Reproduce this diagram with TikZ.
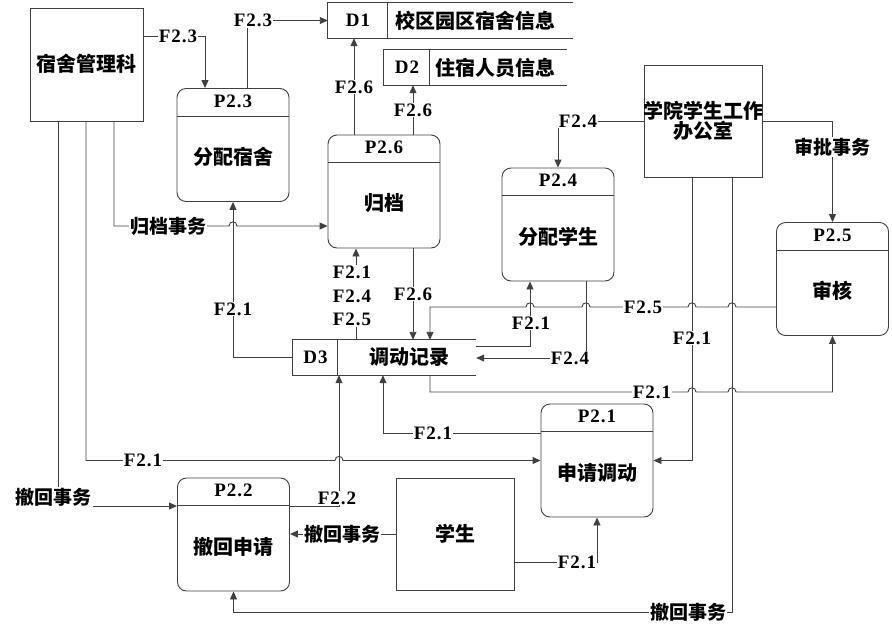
\documentclass[tikz,border=0pt]{standalone}
\usepackage{fontspec}
\usetikzlibrary{arrows.meta,calc}
\newfontfamily\cjk{Noto Sans CJK SC}
\newfontfamily\lat{Liberation Serif}[LetterSpace=5]
\tikzset{
  ln/.style={line width=0.9pt,draw=black!75},
  flow/.style={ln,-{Triangle[length=8pt,width=7pt]}},
  ext/.style={ln,draw,rectangle,inner sep=0pt},
  proc/.style={ln,draw,rounded corners=9pt,minimum width=112pt,minimum height=113pt,inner sep=0pt},
  store/.style={rectangle,inner sep=0pt,minimum height=35pt},
  cn/.style={font=\cjk\bfseries\fontsize{20}{20}\selectfont,inner sep=0pt},
  pid/.style={font=\lat\bfseries\fontsize{19}{21}\selectfont,inner sep=0pt},
  lab/.style={fill=white,inner sep=1pt,font=\lat\bfseries\fontsize{19}{23.5}\selectfont},
  clab/.style={fill=white,inner sep=1pt,font=\cjk\bfseries\fontsize{19}{21}\selectfont},
}
\newcommand\procbox[5]{%
  \node[proc] (#1) at (#2,#3) {};
  \draw[ln] ($(#1.north west)+(0,28)$) -- ($(#1.north east)+(0,28)$);
  \node[pid] (#1id) at ($(#1.north)+(0,13)$) {#4};
  \node[cn] (#1tx) at ($(#1.center)+(0,12)$) {#5};
}
\newcommand\storebox[6]{% name, cx, cy, width, id, text-x
  \node[store,minimum width=#4pt] (#1) at (#2,#3) {};
  \draw[ln] (#1.north east) -- (#1.north west) -- (#1.south west) -- (#1.south east);
  \draw[ln] ($(#1.north west)+(#6,0)$) -- ($(#1.south west)+(#6,0)$);
}
\begin{document}
\begin{tikzpicture}[x=1pt,y=-1pt]
\useasboundingbox (0,0) rectangle (892,633);

% external entities
\node[ext,minimum width=113pt,minimum height=113pt] (S) at (86.5,64.5) {};
\node[cn] (Stx) at (86.5,64) {宿舍管理科};
\node[ext,minimum width=118pt,minimum height=112pt] (O) at (703,121) {};
\node[cn,align=center] (Otx) at (703,120.5) {学院学生工作\\办公室};
\node[ext,minimum width=118pt,minimum height=112pt] (St) at (455,534) {};
\node[cn] (Sttx) at (455,534) {学生};

% processes
\procbox{P23}{233}{145}{P2.3}{分配宿舍}
\procbox{P26}{384}{191.5}{P2.6}{归档}
\procbox{P24}{558}{224.5}{P2.4}{分配学生}
\procbox{P25}{832.5}{279}{P2.5}{审核}
\procbox{P21}{597}{460.5}{P2.1}{申请调动}
\procbox{P22}{233.5}{534.5}{P2.2}{撤回申请}

% data stores
\storebox{D1}{450.5}{20.5}{245}{D1}{60}
\node[pid] (D1id) at (358,20.5) {D1};
\node[cn] (D1tx) at (475,20.5) {校区园区宿舍信息};
\storebox{D2}{475.5}{67.5}{183}{D2}{46}
\node[pid] (D2id) at (407,67.5) {D2};
\node[cn] (D2tx) at (495,67.5) {住宿人员信息};
\storebox{D3}{384.5}{357.5}{183}{D3}{45}
\node[pid] (D3id) at (315.5,357.5) {D3};
\node[cn] (D3tx) at (409,357.5) {调动记录};

% bend coordinates
\coordinate (k1) at (114,226);
\coordinate (k2) at (86,460.5);
\coordinate (k3) at (58,506);
\coordinate (k4) at (339,506);
\coordinate (k5) at (597,562);
\coordinate (k6) at (383,433);
\coordinate (k8) at (692,460.5);
\coordinate (k9) at (732,612);
\coordinate (k10) at (430,307);
\coordinate (k11) at (430,392);
\coordinate (k12) at (530,346);
\coordinate (k13) at (586,358);
\coordinate (k14) at (205,36);
\coordinate (k15) at (247,20.5);
\coordinate (k16) at (354,0);
\coordinate (k17) at (413,0);
\coordinate (k18) at (356,0);

% connectors
\draw[flow] (S.east |- k14) -- (k14) -- (P23.north -| k14);
\draw[flow] (P23.north -| k15) -- (k15) -- (D1.west);
\draw[flow] (P26.north -| k16) -- (D1.south -| k16);
\draw[flow] (P26.north -| k17) -- (D2.south -| k17);
\draw[flow] (P26.south -| k17) -- (D3.north -| k17);
\draw[flow] (D3.north -| k18) -- (P26.south -| k18);
\draw[flow] (D3.west) -- (P23.south |- D3.west) -- (P23.south);
\draw[flow] (S.south -| k1) -- (k1) -- (229,226) .. controls (229,220.5) and (237,220.5) .. (237,226) -- (P26.west |- k1);
\draw[flow] (S.south -| k2) -- (k2) -- (335,460.5) .. controls (335,455) and (343,455) .. (343,460.5) -- (P21.west);
\draw[flow] (S.south -| k3) -- (k3) -- (P22.west |- k3);
\draw[flow] (P22.east |- k4) -- (k4) -- (D3.south -| k4);
\draw[flow] (St.west) -- (P22.east |- St.west);
\draw[flow] (St.east |- k5) -- (k5) -- (P21.south);
\draw[flow] (P21.west |- k6) -- (k6) -- (D3.south -| k6);
\draw[flow] (O.west) -- (P24.north |- O.west) -- (P24.north);
\draw[flow] (O.east) -- (P25.north |- O.east) -- (P25.north);
\draw[flow] (O.south -| k8) -- (k8) -- (P21.east);
\draw[flow] (O.south -| k9) -- (k9) -- (P22.south |- k9) -- (P22.south);
\draw[flow] (P25.west |- k10) -- (736,307) .. controls (736,301.5) and (728,301.5) .. (728,307)
  -- (696,307) .. controls (696,301.5) and (688,301.5) .. (688,307)
  -- (590,307) .. controls (590,301.5) and (582,301.5) .. (582,307)
  -- (534,307) .. controls (534,301.5) and (526,301.5) .. (526,307)
  -- (k10) -- (D3.north -| k10);
\draw[flow] (D3.south -| k11) -- (k11) -- (688,392) .. controls (688,386.5) and (696,386.5) .. (696,392)
  -- (728,392) .. controls (728,386.5) and (736,386.5) .. (736,392)
  -- (P25.south |- k11) -- (P25.south);
\draw[flow] (D3.east |- k12) -- (k12) -- (P24.south -| k12);
\draw[flow] (P24.south -| k13) -- (k13) -- (D3.east |- k13);

% connector labels
\node[lab] (l1) at (178,36) {F2.3};
\node[lab] (l2) at (253,20.5) {F2.3};
\node[lab] (l3) at (354,87) {F2.6};
\node[lab] (l4) at (413,110) {F2.6};
\node[lab] (l5) at (413,294) {F2.6};
\node[lab,align=center] (l6) at (352,296) {F2.1\\F2.4\\F2.5};
\node[lab] (l7) at (233,309) {F2.1};
\node[clab] (l8) at (168,226) {归档事务};
\node[lab] (l9) at (143,460.5) {F2.1};
\node[clab] (l10) at (54,497) {撤回事务};
\node[lab] (l11) at (337,498) {F2.2};
\node[clab] (l12) at (342,534) {撤回事务};
\node[lab] (l13) at (577,562) {F2.1};
\node[lab] (l14) at (433,433) {F2.1};
\node[lab] (l15) at (578,121) {F2.4};
\node[clab] (l16) at (832,147) {审批事务};
\node[lab] (l17) at (692,338) {F2.1};
\node[clab] (l18) at (688,612) {撤回事务};
\node[lab] (l19) at (643,307) {F2.5};
\node[lab] (l20) at (652,392) {F2.1};
\node[lab] (l21) at (531,323) {F2.1};
\node[lab] (l22) at (570,358) {F2.4};
\end{tikzpicture}
\end{document}
